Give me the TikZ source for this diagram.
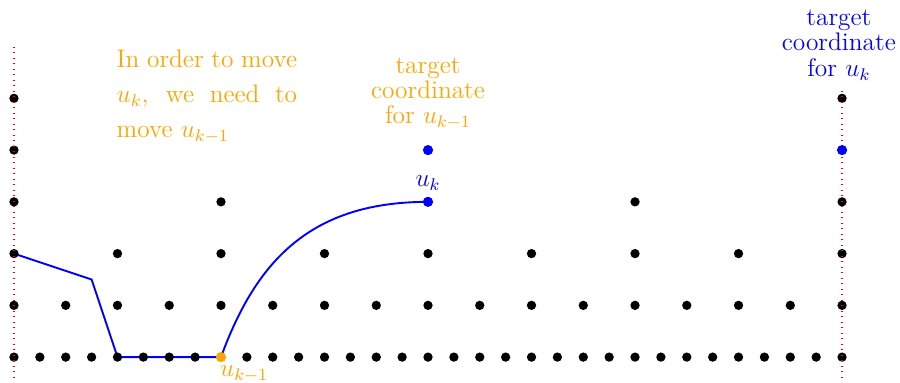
\documentclass[tikz,border=0pt]{standalone}
\usepackage{tikz}
\usetikzlibrary{positioning,calc,backgrounds}
\definecolor{amber}{HTML}{FFA500}

\begin{document}
\begin{tikzpicture}[x=.43cm,y=.43cm,font=\large,
 dot/.style={circle,fill=black,inner sep=0,minimum size=4.4pt},
 hot/.style={circle,inner sep=0,minimum size=4.8pt},
 guide/.style={red,dotted,line width=.6pt},
 route/.style={blue,line width=.9pt},
 note/.style={inner sep=0,font=\fontsize{12}{12}\selectfont,align=center}]
\useasboundingbox (-.54,-.97) rectangle (34.24,13.8);
% levels of the grid
\foreach \lv/\st in {0/1,1/2,2/4,3/8,4/16,5/32}{
 \foreach \k in {0,\st,...,32}{
  \node[dot] (p\lv-\k) at (\k,2*\lv) {};
 }
}
\draw[guide] (0,-.8)--(0,12);
\draw[guide] (32,-.8)--(32,10.45);
\node[hot,fill=amber] (ukm) at (p0-8) {};
\node[hot,fill=blue,label={[blue,inner sep=2.5pt]above:$u_k$}] (uk) at (p3-16) {};
\node[hot,fill=blue] (tkm) at (p4-16) {};
\node[hot,fill=blue] (tk) at (p4-32) {};
\begin{scope}[on background layer]
\draw[route] (p2-0.center)--(3,3)--(p0-4.center)--(p0-8.center)
 .. controls (9.37,3.76) and (11.5,6) .. (uk.center);
\end{scope}
\node[inner sep=0,text=amber,anchor=north west] (ukmlab) at ($(ukm)+(-.05,-.3)$) {$u_{k-1}$};
\node[note,text=amber,above=7pt of tkm] (tkmlab) {target\\coordinate\\for $u_{k-1}$};
\node[note,text=blue,above=6pt of p5-32,xshift=-1.5pt] (tklab) {target\\coordinate\\for $u_k$};
\node[inner sep=0,text=amber,anchor=north west,text width=3cm,align=justify,
 font=\fontsize{12}{16.5}\selectfont] (why) at (3.95,11.89)
 {In order to move $u_k$, we need to move $u_{k-1}$};
\end{tikzpicture}
\end{document}
